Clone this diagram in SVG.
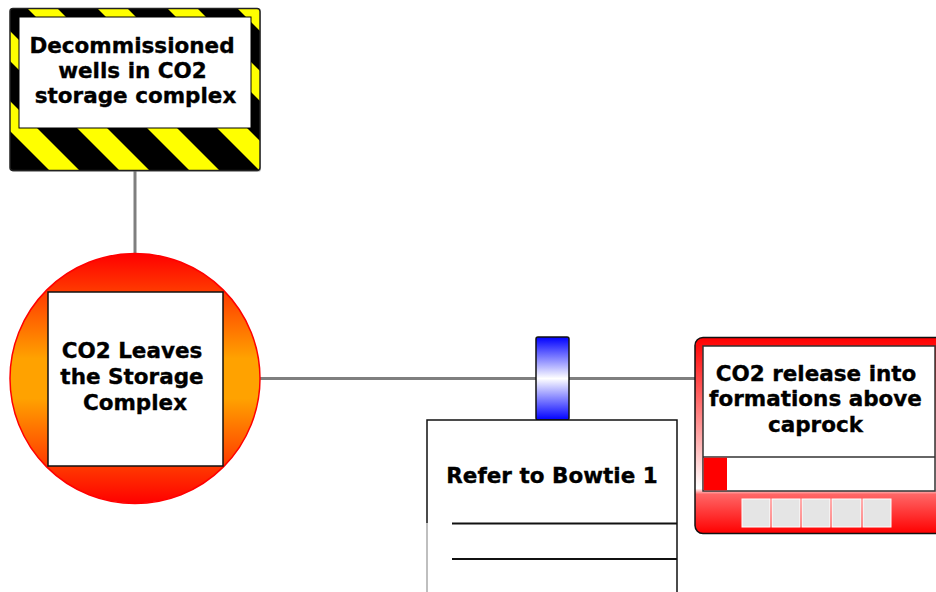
<svg xmlns="http://www.w3.org/2000/svg" width="936" height="592" viewBox="0 0 936 592">
<defs>
<style>
.t{font-family:"DejaVu Sans",Verdana,sans-serif;font-weight:bold;font-size:21.5px;fill:#000;stroke:#000;stroke-width:0.35;text-anchor:middle}
.conn{stroke:#7f7f7f;stroke-width:3;fill:none}
.box{fill:#fff;stroke:#111;stroke-width:1.5}
.gbox{fill:#e5e5e5;stroke:#fff;stroke-width:1}
</style>
<pattern id="haz" patternUnits="userSpaceOnUse" x="0" y="0" width="70" height="70">
<rect width="70" height="70" fill="#000"/>
<polygon points="19,0 49,0 70,21 70,51" fill="#ffff00"/>
<polygon points="0,21 0,51 19,70 49,70" fill="#ffff00"/>
</pattern>
<linearGradient id="circG" x1="0" y1="0" x2="0" y2="1">
<stop offset="0" stop-color="#ff0000"/>
<stop offset="0.42" stop-color="#ffa200"/>
<stop offset="0.58" stop-color="#ffa200"/>
<stop offset="1" stop-color="#ff0000"/>
</linearGradient>
<linearGradient id="barG" x1="0" y1="0" x2="0" y2="1">
<stop offset="0" stop-color="#0000ff"/>
<stop offset="0.5" stop-color="#ffffff"/>
<stop offset="1" stop-color="#0000ff"/>
</linearGradient>
<linearGradient id="redG" x1="0" y1="0" x2="0" y2="1">
<stop offset="0" stop-color="#ff0000"/>
<stop offset="0.77" stop-color="#ffffff"/>
<stop offset="0.80" stop-color="#ff6666"/>
<stop offset="1" stop-color="#ff0000"/>
</linearGradient>
</defs>

<g id="connectors">
<line class="conn" x1="135" y1="170" x2="135" y2="254"/>
<line class="conn" x1="260" y1="378.5" x2="695" y2="378.5"/>
</g>

<g id="hazard">
<rect x="11" y="10" width="250" height="162" rx="3" fill="#888" opacity="0.5"/>
<rect x="10" y="8.5" width="250" height="162" rx="3" fill="url(#haz)" stroke="#222" stroke-width="1.5"/>
<rect x="19" y="17" width="232" height="111" fill="#fff" stroke="#000" stroke-width="1"/>
<text class="t" x="132" y="53">Decommissioned</text>
<text class="t" x="132.5" y="78">wells in CO2</text>
<text class="t" x="135.5" y="103">storage complex</text>
</g>

<g id="topEvent">
<circle cx="135" cy="378.5" r="125" fill="url(#circG)" stroke="#ff0000" stroke-width="1.5"/>
<rect x="48" y="292" width="175" height="174" class="box"/>
<text class="t" x="132" y="358">CO2 Leaves</text>
<text class="t" x="132" y="384">the Storage</text>
<text class="t" x="135" y="410">Complex</text>
</g>

<g id="barrier">
<rect x="536" y="337" width="33" height="83" rx="2" fill="url(#barG)" stroke="#111" stroke-width="1.5"/>
</g>

<g id="bowtieRef">
<rect x="427" y="420" width="250" height="200" fill="#fff" stroke="none"/>
<path d="M427,523 V420 H677 V600" fill="none" stroke="#111" stroke-width="1.5"/>
<line x1="427" y1="523" x2="427" y2="600" stroke="#aaa" stroke-width="1.5"/>
<line x1="452" y1="523.5" x2="677" y2="523.5" stroke="#111" stroke-width="2"/>
<line x1="452" y1="559" x2="677" y2="559" stroke="#111" stroke-width="2"/>
<text class="t" x="552" y="483">Refer to Bowtie 1</text>
</g>

<g id="consequence">
<rect x="695" y="337.5" width="260" height="196" rx="8" fill="url(#redG)" stroke="#111" stroke-width="1.5"/>
<rect x="703" y="346" width="232" height="145" fill="#fff" stroke="#333" stroke-width="1.5"/>
<line x1="703" y1="457" x2="935" y2="457" stroke="#333" stroke-width="1.5"/>
<rect x="703.7" y="457.7" width="23.3" height="32.6" fill="#ff0000"/>
<rect class="gbox" x="742" y="499" width="28" height="28"/>
<rect class="gbox" x="772" y="499" width="28" height="28"/>
<rect class="gbox" x="802" y="499" width="28" height="28"/>
<rect class="gbox" x="832" y="499" width="29" height="28"/>
<rect class="gbox" x="863" y="499" width="28" height="28"/>
<text class="t" x="816" y="381">CO2 release into</text>
<text class="t" x="815.5" y="406">formations above</text>
<text class="t" x="815.5" y="431.5">caprock</text>
</g>
</svg>
